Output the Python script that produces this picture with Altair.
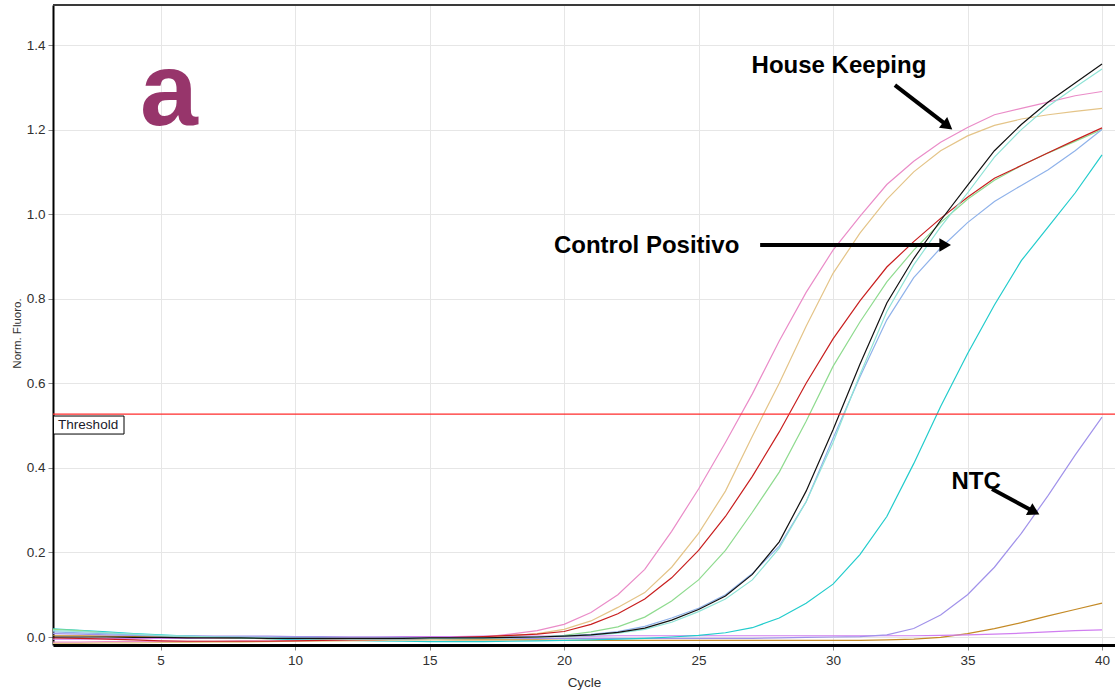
import math
import altair as alt
import pandas as pd

# ---- amplification data (normalised fluorescence per cycle) ----
cycles = list(range(1, 41))

pink = [-0.012, -0.012, -0.011, -0.011, -0.010, -0.010, -0.010, -0.009, -0.009, -0.008,
        -0.008, -0.007, -0.006, -0.005, -0.004, -0.003, 0.0, 0.007, 0.015, 0.03,
        0.058, 0.10, 0.16, 0.25, 0.35, 0.46, 0.575, 0.70, 0.815, 0.915,
        0.995, 1.07, 1.125, 1.17, 1.205, 1.235, 1.25, 1.265, 1.28, 1.29]
tan = [-0.015, -0.015, -0.014, -0.014, -0.013, -0.013, -0.012, -0.012, -0.011, -0.010,
       -0.010, -0.009, -0.008, -0.007, -0.006, -0.004, -0.002, 0.003, 0.008, 0.018,
       0.038, 0.07, 0.105, 0.165, 0.245, 0.345, 0.475, 0.60, 0.735, 0.86,
       0.955, 1.035, 1.10, 1.15, 1.185, 1.21, 1.225, 1.235, 1.243, 1.25]
red = [-0.002, -0.003, -0.005, -0.007, -0.009, -0.010, -0.010, -0.010, -0.010, -0.009,
       -0.008, -0.007, -0.006, -0.005, -0.003, -0.001, 0.001, 0.004, 0.007, 0.013,
       0.03, 0.055, 0.09, 0.14, 0.205, 0.285, 0.38, 0.485, 0.60, 0.705,
       0.795, 0.875, 0.935, 0.99, 1.04, 1.085, 1.115, 1.145, 1.175, 1.204]
green = [0.018, 0.015, 0.010, 0.006, 0.003, 0.001, -0.001, -0.002, -0.003, -0.003,
         -0.004, -0.004, -0.004, -0.003, -0.003, -0.002, -0.002, -0.001, 0.0, 0.004,
         0.012, 0.024, 0.047, 0.085, 0.135, 0.205, 0.295, 0.39, 0.51, 0.64,
         0.745, 0.84, 0.915, 0.98, 1.035, 1.08, 1.115, 1.145, 1.172, 1.2]
blue = [0.012, 0.010, 0.008, 0.005, 0.003, 0.002, 0.001, 0.0, -0.001, -0.002,
        -0.002, -0.003, -0.003, -0.003, -0.003, -0.002, -0.002, -0.001, 0.0, 0.003,
        0.006, 0.013, 0.025, 0.045, 0.068, 0.10, 0.15, 0.215, 0.32, 0.47,
        0.615, 0.75, 0.85, 0.92, 0.98, 1.03, 1.068, 1.105, 1.15, 1.2]
aqua = [0.015, 0.013, 0.010, 0.007, 0.004, 0.002, 0.0, -0.001, -0.002, -0.003,
        -0.004, -0.005, -0.005, -0.005, -0.004, -0.004, -0.003, -0.002, 0.0, 0.002,
        0.004, 0.009, 0.018, 0.035, 0.06, 0.09, 0.135, 0.21, 0.32, 0.46,
        0.62, 0.77, 0.88, 0.97, 1.05, 1.135, 1.2, 1.255, 1.3, 1.343]
cyan = [0.019, 0.016, 0.012, 0.008, 0.005, 0.002, 0.0, -0.002, -0.004, -0.006,
        -0.007, -0.008, -0.009, -0.010, -0.011, -0.011, -0.011, -0.010, -0.009, -0.008,
        -0.007, -0.005, -0.003, 0.0, 0.004, 0.010, 0.022, 0.045, 0.08, 0.125,
        0.195, 0.285, 0.41, 0.545, 0.67, 0.785, 0.89, 0.97, 1.05, 1.14]
lavender = [0.008, 0.007, 0.005, 0.004, 0.003, 0.003, 0.002, 0.002, 0.002, 0.001,
            0.001, 0.0, 0.0, -0.001, -0.002, -0.003, -0.003, -0.003, -0.003, -0.003,
            -0.003, -0.003, -0.003, -0.003, -0.003, -0.003, -0.003, -0.002, -0.001, 0.0,
            0.001, 0.005, 0.02, 0.052, 0.10, 0.165, 0.245, 0.335, 0.43, 0.52]
brown = [0.003, 0.003, 0.002, 0.001, 0.0, -0.001, -0.002, -0.003, -0.004, -0.004,
         -0.005, -0.005, -0.006, -0.006, -0.006, -0.007, -0.007, -0.007, -0.007, -0.008,
         -0.008, -0.008, -0.008, -0.008, -0.008, -0.008, -0.008, -0.008, -0.008, -0.008,
         -0.008, -0.007, -0.005, -0.001, 0.008, 0.02, 0.034, 0.05, 0.065, 0.08]
violet = [-0.005, -0.005, -0.004, -0.004, -0.003, -0.003, -0.002, -0.002, -0.001, -0.001,
          0.0, 0.0, 0.0, 0.001, 0.001, 0.001, 0.002, 0.002, 0.002, 0.002,
          0.002, 0.003, 0.003, 0.003, 0.003, 0.003, 0.003, 0.003, 0.003, 0.003,
          0.003, 0.003, 0.003, 0.004, 0.005, 0.007, 0.009, 0.012, 0.015, 0.017]
black = [0.0, 0.0, 0.0, -0.001, -0.001, -0.002, -0.002, -0.002, -0.003, -0.003,
         -0.003, -0.003, -0.003, -0.003, -0.002, -0.002, -0.002, -0.001, 0.0, 0.002,
         0.005, 0.011, 0.021, 0.04, 0.065, 0.097, 0.148, 0.225, 0.345, 0.49,
         0.645, 0.79, 0.895, 0.985, 1.068, 1.15, 1.212, 1.265, 1.31, 1.355]

sample_names = ["M01", "M02", "M03", "M04", "M05", "M06",
                "M07", "M08", "M09", "M10", "M11"]
sample_values = [brown, violet, lavender, cyan, pink, tan, green, red, blue, aqua, black]
sample_colors = ["#c48a26", "#d07ef0", "#a192ea", "#22cccc", "#ea8cc8", "#e4c488",
                 "#8fdb8f", "#c81e1e", "#8fb2ea", "#8fe3d6", "#111111"]

threshold = 0.527

# annotation labels and arrows (data units)
note_text = ["House Keeping", "Control Positivo", "NTC"]
note_x = [30.22, 23.07, 35.32]
note_y = [1.334, 0.909, 0.351]
arrow_x0 = [32.30, 27.29, 35.91]
arrow_y0 = [1.305, 0.927, 0.350]
arrow_x1 = [34.46, 34.42, 37.70]
arrow_y1 = [1.199, 0.927, 0.2885]
arrow_angle = [37.8, 0.0, 28.4]

panel_letter = "a"
panel_x = 5.31
panel_y = 1.211

thr_box_x = [1.02, 3.64]
thr_box_y = [0.5226, 0.480]
thr_text_x = 1.19
thr_text_y = 0.5013

x_ticks = [5, 10, 15, 20, 25, 30, 35, 40]
y_ticks = [0.0, 0.2, 0.4, 0.6, 0.8, 1.0, 1.2, 1.4]

# ---- layout ----
PLOT_W, PLOT_H = 1062, 640
X_MIN, X_MAX = 1.0, 40.483
Y_MIN, Y_MAX = -0.0189, 1.4946
FONT = "Liberation Sans"

rows = []
for name, vals in zip(sample_names, sample_values):
    assert len(vals) == len(cycles)
    for c, v in zip(cycles, vals):
        rows.append({"cycle": c, "fluoro": v, "sample": name})
curves = pd.DataFrame(rows)

x_scale = alt.Scale(domain=[X_MIN, X_MAX], nice=False, zero=False)
y_scale = alt.Scale(domain=[Y_MIN, Y_MAX], nice=False, zero=False)

x_axis = alt.Axis(values=x_ticks, title="Cycle", grid=True, gridColor="#e6e6e6",
                  domainColor="#000000", domainWidth=3, tickColor="#8a8a8a",
                  tickSize=5, labelFont=FONT, labelFontSize=13.5, labelColor="#303030",
                  labelPadding=3, titleFont=FONT, titleFontSize=13.5,
                  titleFontWeight="normal", titleColor="#303030",
                  titleX=531, titleY=37, titleBaseline="middle")
y_axis = alt.Axis(values=y_ticks, format=".1f", title="Norm. Fluoro.", grid=True,
                  gridColor="#e6e6e6", domainColor="#000000", domainWidth=2,
                  tickColor="#8a8a8a", tickSize=5, labelFont=FONT, labelFontSize=13.5,
                  labelColor="#303030", labelPadding=3, titleFont=FONT,
                  titleFontSize=11.5, titleFontWeight="normal", titleColor="#303030",
                  titleX=-36, titleY=328, titleBaseline="middle")

lines = alt.Chart(curves).mark_line(strokeWidth=1.2, clip=True).encode(
    x=alt.X("cycle:Q", scale=x_scale, axis=x_axis),
    y=alt.Y("fluoro:Q", scale=y_scale, axis=y_axis),
    color=alt.Color("sample:N", scale=alt.Scale(domain=sample_names, range=sample_colors),
                    legend=None),
    order=alt.Order("cycle:Q"),
)

thr_df = pd.DataFrame({"y": [threshold]})
thr_line = alt.Chart(thr_df).mark_rule(color="#ff2b2b", strokeWidth=1.2).encode(
    y=alt.Y("y:Q", scale=y_scale)
)

box_df = pd.DataFrame({"x": [thr_box_x[0]], "x2": [thr_box_x[1]],
                       "y": [thr_box_y[0]], "y2": [thr_box_y[1]]})
thr_box = alt.Chart(box_df).mark_rect(fill="#ffffff", stroke="#000000",
                                      strokeWidth=1).encode(
    x=alt.X("x:Q", scale=x_scale), x2="x2:Q",
    y=alt.Y("y:Q", scale=y_scale), y2="y2:Q",
)
thr_label = alt.Chart(pd.DataFrame({"x": [thr_text_x], "y": [thr_text_y],
                                    "t": ["Threshold"]})).mark_text(
    align="left", baseline="middle", font=FONT, fontSize=13.5, color="#1a1a2a"
).encode(x=alt.X("x:Q", scale=x_scale), y=alt.Y("y:Q", scale=y_scale), text="t:N")

letter = alt.Chart(pd.DataFrame({"x": [panel_x], "y": [panel_y],
                                 "t": [panel_letter]})).mark_text(
    align="center", baseline="alphabetic", font=FONT, fontSize=104,
    fontWeight="bold", color="#97356b"
).encode(x=alt.X("x:Q", scale=x_scale), y=alt.Y("y:Q", scale=y_scale), text="t:N")

notes = alt.Chart(pd.DataFrame({"x": note_x, "y": note_y, "t": note_text})).mark_text(
    align="center", baseline="alphabetic", font=FONT, fontSize=24,
    fontWeight="bold", color="#000000"
).encode(x=alt.X("x:Q", scale=x_scale), y=alt.Y("y:Q", scale=y_scale), text="t:N")

# arrow shafts stop at the centre of the head; heads are rotated triangles
HEAD_SIZE = 180
ppc = PLOT_W / (X_MAX - X_MIN)
ppu = PLOT_H / (Y_MAX - Y_MIN)
head_r = math.sqrt(HEAD_SIZE) / 2
head_x, head_y = [], []
for x1, y1, ang in zip(arrow_x1, arrow_y1, arrow_angle):
    a = math.radians(ang)
    head_x.append(x1 - head_r * math.cos(a) / ppc)
    head_y.append(y1 + head_r * math.sin(a) / ppu)

arrow_df = pd.DataFrame({"x0": arrow_x0, "y0": arrow_y0, "hx": head_x, "hy": head_y,
                         "angle": arrow_angle})
shafts = alt.Chart(arrow_df).mark_rule(color="#000000", strokeWidth=4).encode(
    x=alt.X("x0:Q", scale=x_scale), x2="hx:Q",
    y=alt.Y("y0:Q", scale=y_scale), y2="hy:Q",
)
heads = alt.Chart(arrow_df).mark_point(shape="triangle-right", filled=True,
                                       color="#000000", opacity=1,
                                       size=HEAD_SIZE).encode(
    x=alt.X("hx:Q", scale=x_scale), y=alt.Y("hy:Q", scale=y_scale),
    angle=alt.Angle("angle:Q", scale=None),
)

top_border = alt.Chart(pd.DataFrame({"k": [0]})).mark_rule(
    color="#3a3a3a", strokeWidth=2
).encode(x=alt.value(0), x2=alt.value(PLOT_W), y=alt.value(0))

chart = alt.layer(
    lines, thr_line, thr_box, thr_label, letter, notes, shafts, heads, top_border
).properties(
    width=PLOT_W, height=PLOT_H,
    autosize=alt.AutoSizeParams(type="none"),
    padding={"left": 53, "top": 5, "right": 0, "bottom": 47},
    background="#ffffff",
).configure_view(stroke=None)

chart.save("out.html", embed_options={"renderer": "svg", "actions": False})
